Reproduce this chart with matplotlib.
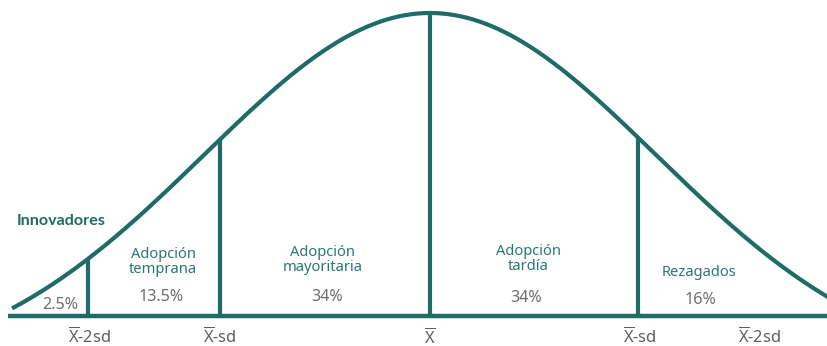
import numpy as np
import matplotlib
matplotlib.use("Agg")
import matplotlib.pyplot as plt

plt.rcParams['font.family'] = ['Noto Sans', 'DejaVu Sans']
plt.rcParams['mathtext.fontset'] = 'custom'
plt.rcParams['mathtext.rm'] = 'Noto Sans'

# segment boundaries, in standard deviations from the mean (as drawn)
boundaries = [-1.63, -1.0, 0.0, 0.99]
segments = ["Innovadores", "Adopción\ntemprana", "Adopción\nmayoritaria",
            "Adopción\ntardía", "Rezagados"]
percents = ["2.5%", "13.5%", "34%", "34%", "16%"]
tick_pos = [-1.62, -1.0, 0.0, 1.0, 1.57]
tick_labels = [r"$\overline{\mathrm{X}}$-2sd", r"$\overline{\mathrm{X}}$-sd",
               r"$\overline{\mathrm{X}}$", r"$\overline{\mathrm{X}}$-sd",
               r"$\overline{\mathrm{X}}$-2sd"]

# layout of labels (x, y in data units)
name_xy = [(-1.967, 0.314), (-1.271, 0.178), (-0.51, 0.185), (0.467, 0.188), (1.281, 0.142)]
pct_xy = [(-1.762, 0.036), (-1.281, 0.063), (-0.49, 0.063), (0.457, 0.059), (1.286, 0.053)]

teal = "#1f6b67"
teal_txt = "#2a7873"
grey = "#6e6e6e"

# bell shape
width = 1.076
floor = 0.19


def bell(x):
    return (1 + floor) * np.exp(-0.5 * (np.asarray(x) / width) ** 2) - floor


fig = plt.figure(figsize=(8.27, 3.46), dpi=100)
ax = fig.add_axes([0, 30 / 346, 1, 316 / 346])
xmin, xmax = -430 / 210, 397 / 210
ax.set_xlim(xmin, xmax)
ax.set_ylim(0, 316 / 303)

xs = np.linspace(-1.99, xmax + 0.05, 400)
ax.plot(xs, bell(xs), color=teal, lw=3, solid_capstyle='butt', clip_on=False)
ax.vlines(boundaries, 0, bell(boundaries), color=teal, lw=3)
ax.hlines(0, -2.01, xmax + 0.05, color=teal, lw=3.2, clip_on=False)

for i, (name, pct) in enumerate(zip(segments, percents)):
    nx, ny = name_xy[i]
    if i == 0:
        ax.text(nx, ny, name, ha='left', va='center', fontsize=11.6,
                fontweight='bold', family=['Lato', 'DejaVu Sans'], color=teal)
    else:
        ax.text(nx, ny, name, ha='center', va='center', fontsize=10.6,
                color=teal_txt, linespacing=0.95)
    px, py = pct_xy[i]
    ax.text(px, py, pct, ha='center', va='center', fontsize=11.6, color=grey)

ax.set_xticks(tick_pos)
ax.set_xticklabels(tick_labels, fontsize=11.8, color="#5e5e5e")
ax.tick_params(axis='x', length=0, pad=8)
ax.set_yticks([])
for s in ax.spines.values():
    s.set_visible(False)

fig.savefig("out.png", dpi=100, facecolor='white')
